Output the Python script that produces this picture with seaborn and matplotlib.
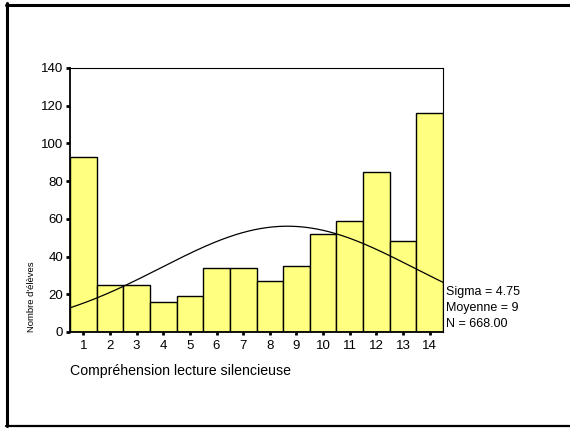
import numpy as np
import pandas as pd
import matplotlib
matplotlib.use("Agg")
import matplotlib.pyplot as plt
import seaborn as sns

categories = list(range(1, 15))
counts = [93, 25, 25, 16, 19, 34, 34, 27, 35, 52, 59, 85, 48, 116]
y_ticks = [0, 20, 40, 60, 80, 100, 120, 140]
sigma = 4.75
mean_val = 8.66
n_total = 668
stats_lines = ["Sigma = 4.75", "Moyenne = 9", "N = 668.00"]
x_label = "Compréhension lecture silencieuse"
y_label = "Nombre d'élèves"

sns.set_theme(style="white")
plt.rcParams['font.family'] = ['Liberation Sans', 'DejaVu Sans']
plt.rcParams['text.color'] = 'black'
plt.rcParams['xtick.color'] = 'black'
plt.rcParams['ytick.color'] = 'black'

W, H = 570, 428
fig = plt.figure(figsize=(W / 100, H / 100), dpi=100)

# outer frame (left, top, bottom)
fig.add_artist(plt.Line2D([6.5 / W, 6.5 / W], [1 - 3 / H, 1 - 426 / H], color="black", lw=2.2, transform=fig.transFigure))
fig.add_artist(plt.Line2D([5.5 / W, 1.0], [1 - 4.5 / H, 1 - 4.5 / H], color="black", lw=2.2, transform=fig.transFigure))
fig.add_artist(plt.Line2D([5.5 / W, 1.0], [1 - 426 / H, 1 - 426 / H], color="black", lw=1.6, transform=fig.transFigure))

left, right, top, bottom = 70, 443, 68, 332
ax = fig.add_axes([left / W, 1 - bottom / H, (right - left) / W, (bottom - top) / H])

df = pd.DataFrame({"x": categories, "n": counts})
sns.histplot(data=df, x="x", weights="n", discrete=True, ax=ax,
             color="#FFFF80", edgecolor="black", linewidth=1.0, alpha=1.0)

xs = np.linspace(0.5, 14.5, 300)
ys = n_total / (sigma * np.sqrt(2 * np.pi)) * np.exp(-0.5 * ((xs - mean_val) / sigma) ** 2)
ax.plot(xs, ys, color="black", lw=0.9)

ax.set_xlim(0.5, 14.5)
ax.set_ylim(0, 140)
ax.set_xticks(categories)
ax.set_xticklabels([str(c) for c in categories])
ax.set_yticks(y_ticks)
ax.set_yticklabels([str(t) for t in y_ticks])
ax.tick_params(axis="both", bottom=True, left=True, labelsize=9.5, colors="black",
               length=3, width=2, direction="out", pad=2)
ax.tick_params(axis="x", length=2.5, pad=3)
ax.set_xlabel("")
ax.set_ylabel("")
for s in ["left", "bottom"]:
    ax.spines[s].set_linewidth(1.3)
for s in ["top", "right"]:
    ax.spines[s].set_linewidth(0.8)
for s in ax.spines.values():
    s.set_color("black")

fig.text(left / W, 1 - 371 / H, x_label, fontsize=10.2, ha="left", va="center", color="black")
fig.text(32 / W, 1 - 297 / H, y_label, fontsize=6.8, rotation=90, ha="center", va="center", color="black")
for i, line in enumerate(stats_lines):
    fig.text(446 / W, 1 - (292 + 16 * i) / H, line, fontsize=9, ha="left", va="center", color="black")

fig.savefig("out.png", dpi=100)
